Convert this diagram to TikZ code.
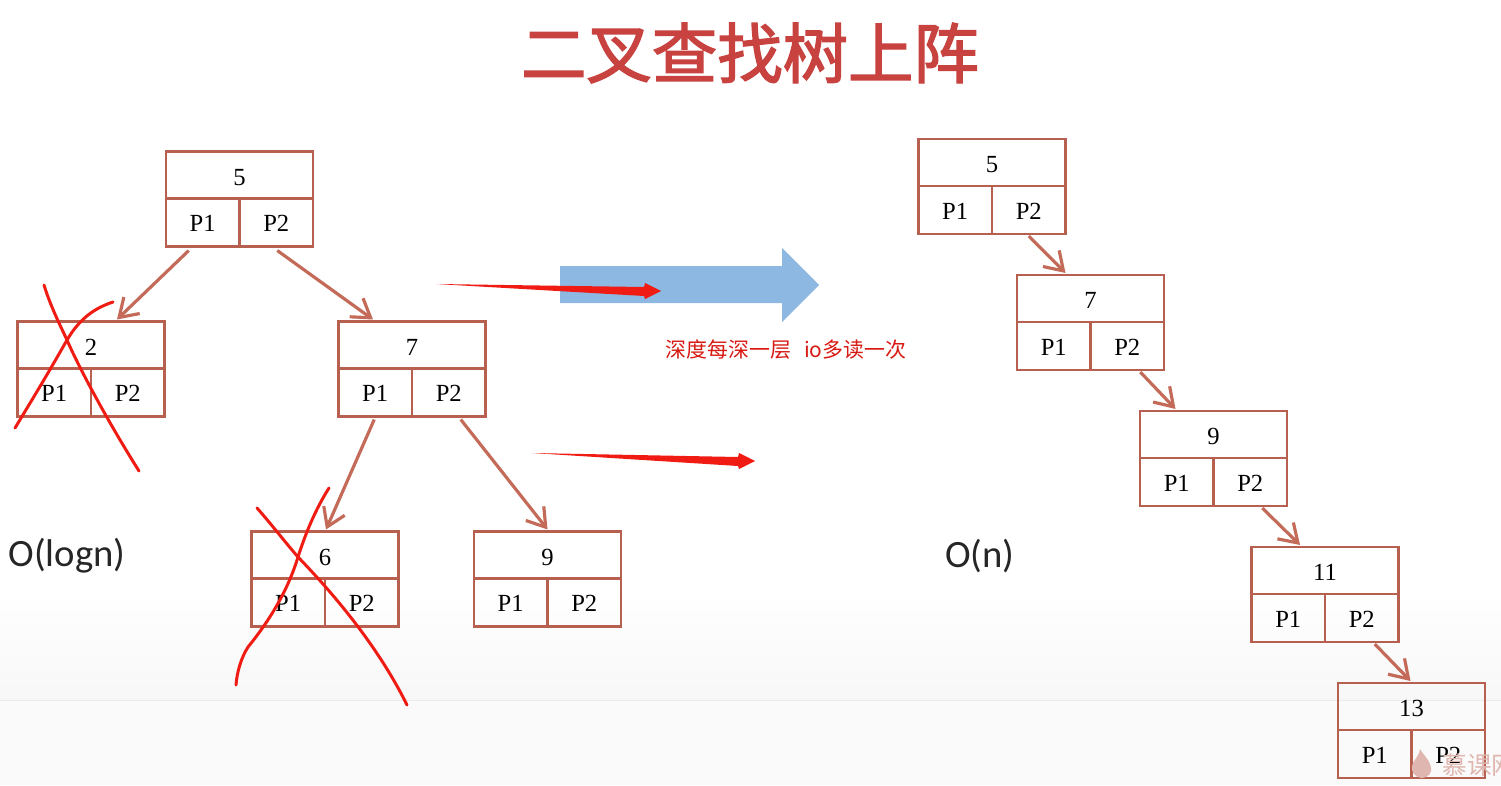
\documentclass[tikz,border=0pt]{standalone}
\usepackage{xcolor}
\usepackage{fontspec}
\setmainfont{Liberation Serif}
\newfontfamily\cjkfont{Noto Sans CJK SC}
\newfontfamily\titlefont[FakeBold=2.2]{Noto Sans CJK SC}
\newfontfamily\latinfont{Carlito}
\usetikzlibrary{arrows.meta,positioning,calc}
\definecolor{boxred}{HTML}{B8604F}
\definecolor{linkred}{HTML}{C46A58}
\definecolor{titlered}{HTML}{C8423F}
\definecolor{penred}{HTML}{F01C14}
\definecolor{bigblue}{HTML}{8DB8E2}

\begin{document}
\begin{tikzpicture}[
   x=0.01cm, y=-0.01cm, font=\fontsize{7}{8}\selectfont,
   val/.style={draw=boxred,line width=0.65pt,minimum width=1.47cm,minimum height=0.47cm,inner sep=0pt,outer sep=0pt,text height=5.8pt},
   ptr/.style={draw=boxred,line width=0.65pt,minimum width=0.735cm,minimum height=0.48cm,inner sep=0pt,outer sep=0pt,text height=5.2pt},
   lnk/.style={draw=linkred,line width=0.9pt,-{Straight Barb[length=5pt,width=6.5pt,line width=0.9pt]}},
   pen/.style={draw=penred,line width=0.85pt,line cap=round,line join=round},
   bigo/.style={font=\latinfont\fontsize{11}{13}\selectfont,text=black!85}]
  \useasboundingbox (0,0) rectangle (1501,785);
  \clip (0,0) rectangle (1501,785);
  % page background
  \fill[white] (0,0) rectangle (1501,785);
  \shade[top color=white,bottom color=black!3] (0,590) rectangle (1501,700);
  \fill[black!2] (0,700) rectangle (1501,785);
  \draw[black!8,line width=0.2pt] (0,700.5) -- (1501,700.5);
  \node[font=\titlefont\fontsize{18.6}{20}\selectfont,text=titlered] (title) at (750,53) {二叉查找树上阵};

  % balanced tree
  \node[val] (a5) at (239.5,175) {5};
  \node[ptr,below right=0pt of a5.south west] (a5l) {P1};
  \node[ptr,below left=0pt of a5.south east] (a5r) {P2};
  \node[val] (a2) at (91,345) {2};
  \node[ptr,below right=0pt of a2.south west] (a2l) {P1};
  \node[ptr,below left=0pt of a2.south east] (a2r) {P2};
  \node[val] (a7) at (412,345) {7};
  \node[ptr,below right=0pt of a7.south west] (a7l) {P1};
  \node[ptr,below left=0pt of a7.south east] (a7r) {P2};
  \node[val] (a6) at (325,555) {6};
  \node[ptr,below right=0pt of a6.south west] (a6l) {P1};
  \node[ptr,below left=0pt of a6.south east] (a6r) {P2};
  \node[val] (a9) at (547.5,555) {9};
  \node[ptr,below right=0pt of a9.south west] (a9l) {P1};
  \node[ptr,below left=0pt of a9.south east] (a9r) {P2};
  \draw[lnk] ($(a5l.south)+(-14,4)$) -- ($(a2.north)+(26,-2)$);
  \draw[lnk] ($(a5r.south)+(1,4)$) -- ($(a7.north)+(-39,-2)$);
  \draw[lnk] ($(a7l.south)+(-1,3)$) -- ($(a6.north)+(1,-2)$);
  \draw[lnk] ($(a7r.south)+(12,3)$) -- ($(a9.north)+(0,-2)$);

  % degenerate tree
  \node[val] (b5) at (992,162.5) {5};
  \node[ptr,below right=0pt of b5.south west] (b5l) {P1};
  \node[ptr,below left=0pt of b5.south east] (b5r) {P2};
  \node[val] (b7) at (1090.5,298.5) {7};
  \node[ptr,below right=0pt of b7.south west] (b7l) {P1};
  \node[ptr,below left=0pt of b7.south east] (b7r) {P2};
  \node[val] (b9) at (1213.5,434.5) {9};
  \node[ptr,below right=0pt of b9.south west] (b9l) {P1};
  \node[ptr,below left=0pt of b9.south east] (b9r) {P2};
  \node[val] (b11) at (1325,570.5) {11};
  \node[ptr,below right=0pt of b11.south west] (b11l) {P1};
  \node[ptr,below left=0pt of b11.south east] (b11r) {P2};
  \node[val] (b13) at (1411.5,706.5) {13};
  \node[ptr,below right=0pt of b13.south west] (b13l) {P1};
  \node[ptr,below left=0pt of b13.south east] (b13r) {P2};
  \draw[lnk] ($(b5r.south)+(0,2)$) -- ($(b7.north)+(-25,-2)$);
  \draw[lnk] ($(b7r.south)+(13,2)$) -- ($(b9.north)+(-38,-2)$);
  \draw[lnk] ($(b9r.south)+(12,2)$) -- ($(b11.north)+(-25,-2)$);
  \draw[lnk] ($(b11r.south)+(13,2)$) -- ($(b13.north)+(-1,-2)$);

  \node[bigo] (olog) at (67,556) {O(logn)};
  \node[bigo] (on) at (980,556) {O(n)};

  % block arrow and note
  \fill[bigblue] (560,266) -- (782,266) -- (782,248) -- (819,285) -- (782,322) -- (782,303) -- (560,303) -- cycle;
  \node[font=\cjkfont\fontsize{5.95}{7}\selectfont,text=penred!90!black] (note) at (786,350) {深度每深一层\hspace{0.6em}io多读一次};

  % pen marks
  \coordinate (s1) at (436,284);
  \coordinate (e1) at (661,291);
  \coordinate (s2) at (532,453);
  \coordinate (e2) at (755,461);
  \fill[penred] (s1) -- ($(e1)+(-17,-4)$) -- ($(e1)+(-16,-8)$) -- (e1) -- ($(e1)+(-16,8)$) -- ($(e1)+(-17,5)$) -- cycle;
  \fill[penred] (s2) -- ($(e2)+(-17,-4)$) -- ($(e2)+(-16,-8)$) -- (e2) -- ($(e2)+(-16,8)$) -- ($(e2)+(-17,5)$) -- cycle;
  \draw[pen] (44,285) .. controls (50,305) and (60,325) .. (67,340) .. controls (80,370) and (110,425) .. (139,471);
  \draw[pen] (113,302) .. controls (95,308) and (80,318) .. (67,340) .. controls (50,370) and (35,395) .. (15,428);
  \draw[pen] (257,508) .. controls (272,525) and (285,542) .. (298,557) .. controls (325,585) and (375,640) .. (407,705);
  \draw[pen] (329,488) .. controls (315,510) and (305,535) .. (298,557) .. controls (288,590) and (270,620) .. (248,647) .. controls (241,658) and (237,672) .. (236,685);

  % site mark
  \fill[boxred!45] (1420,749) .. controls (1424,756) and (1432,762) .. (1431,771) .. controls (1430,776) and (1425,778) .. (1421,778) .. controls (1415,777) and (1411,772) .. (1412,766) .. controls (1413,760) and (1419,757) .. (1420,749) -- cycle;
  \node[font=\cjkfont\fontsize{7}{9}\selectfont,text=boxred!45,anchor=west] (mark) at (1430,765) {慕课网};
\end{tikzpicture}
\end{document}
